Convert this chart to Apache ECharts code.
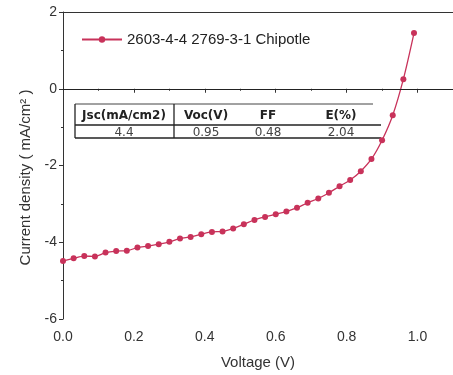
<!DOCTYPE html>
<html>
<head>
<meta charset="utf-8">
<script src="https://cdn.jsdelivr.net/npm/echarts@6/dist/echarts.min.js"></script>
<style>
  html, body { margin: 0; padding: 0; background: #fff; }
  #chart { width: 453px; height: 375px; }
</style>
</head>
<body>
<div id="chart"></div>
<script>
// J-V curve data
const seriesName = '2603-4-4 2769-3-1 Chipotle';
const voltage = [0.00, 0.03, 0.06, 0.09, 0.12, 0.15, 0.18, 0.21, 0.24, 0.27, 0.30, 0.33,
  0.36, 0.39, 0.42, 0.45, 0.48, 0.51, 0.54, 0.57, 0.60, 0.63, 0.66, 0.69, 0.72, 0.75,
  0.78, 0.81, 0.84, 0.87, 0.90, 0.93, 0.96, 0.99];
const currentDensity = [-4.49, -4.42, -4.36, -4.37, -4.27, -4.23, -4.22, -4.14, -4.10, -4.05,
  -3.99, -3.90, -3.86, -3.79, -3.73, -3.72, -3.64, -3.53, -3.42, -3.34, -3.27, -3.20, -3.10,
  -2.97, -2.86, -2.71, -2.54, -2.38, -2.15, -1.83, -1.34, -0.69, 0.25, 1.45];

// inset table
const tableHeaders = ['Jsc(mA/cm2)', 'Voc(V)', 'FF', 'E(%)'];
const tableValues = ['4.4', '0.95', '0.48', '2.04'];

const lineColor = '#c8325a';
const font = '"Liberation Sans", Arial, sans-serif';
const tableFont = '"DejaVu Sans", sans-serif';

const chart = echarts.init(document.getElementById('chart'), null, { renderer: 'canvas' });

// table geometry (pixels)
const tbl = { x0: 75, x1: 381, top: 104, mid: 125, bottom: 138, div: 174 };
const colCenters = [124, 206, 268, 341];

const graphics = [
  { type: 'line', shape: { x1: tbl.x0, y1: tbl.top, x2: 373, y2: tbl.top }, style: { stroke: '#444', lineWidth: 1 } },
  { type: 'line', shape: { x1: tbl.x0, y1: tbl.mid, x2: tbl.x1, y2: tbl.mid }, style: { stroke: '#222', lineWidth: 1.3 } },
  { type: 'line', shape: { x1: tbl.x0, y1: tbl.bottom, x2: tbl.x1, y2: tbl.bottom }, style: { stroke: '#222', lineWidth: 1.3 } },
  { type: 'line', shape: { x1: tbl.x0, y1: tbl.top, x2: tbl.x0, y2: tbl.bottom }, style: { stroke: '#222', lineWidth: 1.3 } },
  { type: 'line', shape: { x1: tbl.div, y1: tbl.top, x2: tbl.div, y2: tbl.bottom }, style: { stroke: '#222', lineWidth: 1.3 } }
];
tableHeaders.forEach((h, i) => {
  graphics.push({
    type: 'text', x: colCenters[i], y: (tbl.top + tbl.mid) / 2 + 1,
    style: { text: h, font: 'bold 12px ' + tableFont, fill: '#222', align: 'center', verticalAlign: 'middle' }
  });
});
tableValues.forEach((v, i) => {
  graphics.push({
    type: 'text', x: colCenters[i], y: (tbl.mid + tbl.bottom) / 2 + 1,
    style: { text: v, font: '12px ' + tableFont, fill: '#444', align: 'center', verticalAlign: 'middle' }
  });
});

const option = {
  backgroundColor: '#fff',
  animation: false,
  grid: { left: 63, right: -10, top: 12, bottom: 55 },
  legend: {
    left: 76, top: 27,
    itemWidth: 40, itemHeight: 8, itemGap: 6,
    textStyle: { fontFamily: font, fontSize: 15, color: '#222' },
    data: [{ name: seriesName }]
  },
  xAxis: [{
    type: 'value', min: 0, max: 1.1, interval: 0.2,
    name: 'Voltage (V)', nameLocation: 'middle', nameGap: 36,
    nameTextStyle: { fontFamily: font, fontSize: 15, color: '#333' },
    axisLine: { show: true, lineStyle: { color: '#333', width: 1 } },
    axisTick: { show: true, length: 4, lineStyle: { color: '#333' } },
    minorTick: { show: true, splitNumber: 2, length: 2, lineStyle: { color: '#333' } },
    splitLine: { show: false },
    axisLabel: {
      fontFamily: font, fontSize: 14, color: '#333', margin: 11, showMaxLabel: false,
      formatter: v => v.toFixed(1)
    }
  }, {
    type: 'value', position: 'top', min: 0, max: 1.1,
    axisLine: { show: true, lineStyle: { color: '#333', width: 1 } },
    axisTick: { show: false }, axisLabel: { show: false }, splitLine: { show: false }
  }],
  yAxis: {
    type: 'value', min: -6, max: 2, interval: 2,
    name: 'Current density ( mA/cm² )', nameLocation: 'middle', nameGap: 30,
    nameTextStyle: { fontFamily: font, fontSize: 15, color: '#333', padding: [0, 0, 0, -24] },
    axisLine: { show: true, lineStyle: { color: '#333', width: 1 } },
    axisTick: { show: true, length: 4, lineStyle: { color: '#333' } },
    minorTick: { show: true, splitNumber: 2, length: 2, lineStyle: { color: '#333' } },
    splitLine: { show: false },
    axisLabel: { fontFamily: font, fontSize: 14, color: '#333', margin: 6 }
  },
  series: [{
    name: seriesName,
    type: 'line',
    data: voltage.map((v, i) => [v, currentDensity[i]]),
    smooth: 0.3,
    symbol: 'circle', symbolSize: 6, showSymbol: true,
    itemStyle: { color: lineColor },
    lineStyle: { color: lineColor, width: 1.3 },
    markLine: {
      silent: true, symbol: 'none', label: { show: false },
      lineStyle: { color: '#222', type: 'solid', width: 1 },
      data: [{ yAxis: 0 }]
    }
  }],
  graphic: graphics
};

chart.setOption(option);
</script>
</body>
</html>
